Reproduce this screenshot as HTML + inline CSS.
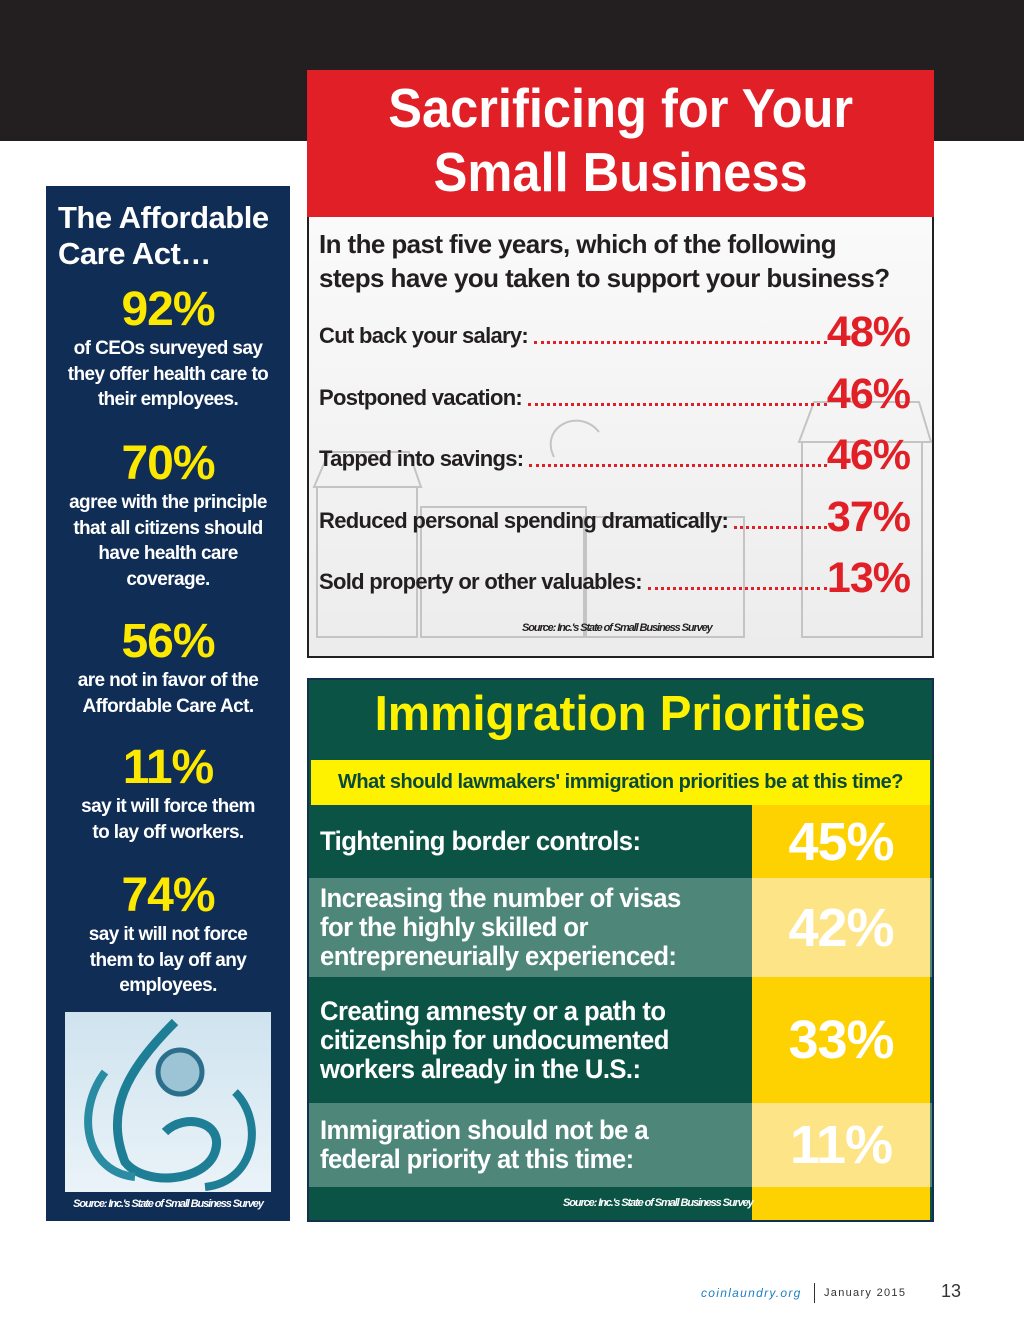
<!DOCTYPE html>
<html><head><meta charset="utf-8">
<style>
*{margin:0;padding:0;box-sizing:border-box}
body{width:1024px;height:1329px;background:#fff;position:relative;overflow:hidden;font-family:"Liberation Sans",sans-serif;font-weight:bold}
.a{position:absolute}
.c{text-align:center}
.sq{display:inline-block;transform:scaleX(0.92);transform-origin:center}
.sl{display:inline-block;transform:scaleX(0.95);transform-origin:left}
.src{font-size:11px;font-style:italic;letter-spacing:-1.1px;white-space:nowrap}
</style></head><body>
<div class="a" style="left:0;top:0;width:1024px;height:141px;background:#231f20"></div>

<!-- Left panel -->
<div class="a" style="left:46px;top:186px;width:244px;height:1035px;background:#0f2d55;color:#fff">
  <div class="a" style="left:12px;top:14px;width:240px;font-size:31px;line-height:36px;letter-spacing:-0.5px;white-space:nowrap">The Affordable<br>Care Act…</div>
  <div id="acaStats"></div>
  <div class="a" style="left:19px;top:826px;width:206px;height:180px;background:linear-gradient(#cfe3ef,#eaf3f8)">
    <svg width="206" height="180">
      <path d="M110 10 C60 60 40 100 60 150 C80 175 140 170 150 140 C160 110 120 100 100 120" fill="none" stroke="#1e7e95" stroke-width="9"/>
      <path d="M40 60 C10 100 20 160 70 165" fill="none" stroke="#2a8ca3" stroke-width="8"/>
      <circle cx="115" cy="60" r="22" fill="#9cc4d4" stroke="#2b6f8c" stroke-width="5"/>
      <path d="M170 80 C200 110 190 170 140 175" fill="none" stroke="#1e7e95" stroke-width="8"/>
    </svg>
  </div>
  <div class="a c src" style="left:0;top:1012px;width:244px">Source: Inc.'s State of Small Business Survey</div>
</div>

<!-- Sacrificing panel -->
<div class="a c" style="left:307px;top:70px;width:627px;height:147px;background:#e11f26;color:#fff;font-size:55px;line-height:64px;padding-top:6px"><span class="sq">Sacrificing for Your<br>Small Business</span></div>
<div class="a" style="left:307px;top:217px;width:627px;height:441px;border:2px solid #231f20;border-top:none;background:linear-gradient(#fafafa,#ececec)">
  <svg class="a" style="left:0;top:0" width="625" height="439">
    <g fill="none" stroke="#c4c4c4" stroke-width="2">
      <rect x="8" y="270" width="100" height="150"/><polygon points="5,270 20,235 100,235 112,270"/>
      <rect x="112" y="290" width="165" height="130"/><rect x="275" y="300" width="160" height="120"/>
      <rect x="493" y="225" width="120" height="195"/><polygon points="490,225 505,185 610,185 622,225"/>
      <path d="M245 240 C230 210 270 190 290 215"/>
    </g>
  </svg>
  <div class="a" style="left:10px;top:10px;width:620px;font-size:26px;line-height:34px;color:#231f20;letter-spacing:-0.6px;white-space:nowrap">In the past five years, which of the following<br>steps have you taken to support your business?</div>
  <div id="sacRows"></div>
  <div class="a src" style="left:213px;top:405px;color:#231f20">Source: Inc.'s State of Small Business Survey</div>
</div>

<!-- Immigration panel -->
<div class="a" style="left:307px;top:678px;width:627px;height:544px;background:#0a5345;border:2px solid #13304f">
  <div class="a c" style="left:0;top:6px;width:623px;font-size:49px;color:#fff200"><span style="display:inline-block;transform:scaleX(0.97)">Immigration Priorities</span></div>
  <div class="a c" style="left:2px;top:80px;width:619px;height:45px;background:#fff200;color:#0a4a3a;font-size:20px;line-height:45px;letter-spacing:-0.5px">What should lawmakers' immigration priorities be at this time?</div>
  <div id="immRows"></div>
  <div class="a" style="left:443px;top:507px;width:178px;height:33px;background:#fed100"></div>
  <div class="a src" style="left:254px;top:517px;color:#fff">Source: Inc.'s State of Small Business Survey</div>
</div>

<!-- Footer -->
<div class="a" style="left:701px;top:1286px;font-size:12px;font-weight:normal;font-style:italic;color:#1f7fc0;letter-spacing:1.3px">coinlaundry.org</div>
<div class="a" style="left:814px;top:1283px;width:1px;height:20px;background:#333"></div>
<div class="a" style="left:824px;top:1287px;font-size:11px;font-weight:normal;color:#333;letter-spacing:1.3px">January 2015</div>
<div class="a" style="left:941px;top:1281px;font-size:18px;font-weight:normal;color:#333">13</div>

<script>
const acaValues=["92%","70%","56%","11%","74%"];
const acaTexts=["of CEOs surveyed say<br>they offer health care to<br>their employees.","agree with the principle<br>that all citizens should<br>have health care<br>coverage.","are not in favor of the<br>Affordable Care Act.","say it will force them<br>to lay off workers.","say it will not force<br>them to lay off any<br>employees."];
const acaTops=[98,252,430,556,684];

const sacLabels=["Cut back your salary:","Postponed vacation:","Tapped into savings:","Reduced personal spending dramatically:","Sold property or other valuables:"];
const sacValues=[48,46,46,37,13];

const immLabels=["Tightening border controls:","Increasing the number of visas<br>for the highly skilled or<br>entrepreneurially experienced:","Creating amnesty or a path to<br>citizenship for undocumented<br>workers already in the U.S.:","Immigration should not be a<br>federal priority at this time:"];
const immValues=[45,42,33,11];

const aca=document.getElementById('acaStats');
acaValues.forEach((v,i)=>{
  const d=document.createElement('div');
  d.className='a c';
  
  
  d.style.cssText='left:0;width:244px;top:'+acaTops[i]+'px;white-space:nowrap';
  d.innerHTML='<div style="font-size:48px;line-height:52px;color:#fde800;letter-spacing:-1px">'+v+'</div><div style="font-size:19px;line-height:25.5px;letter-spacing:-0.6px">'+acaTexts[i]+'</div>';
  aca.appendChild(d);
});

const sac=document.getElementById('sacRows');
const rowY=i=>92+i*61.5;
sacLabels.forEach((l,i)=>{
  const r=document.createElement('div');
  r.className='a';
  
  
  r.style.cssText='left:10px;top:'+rowY(i)+'px;width:591px;height:46px;display:flex;align-items:flex-end';
  r.innerHTML='<span style="font-size:22px;color:#231f20;white-space:nowrap;letter-spacing:-0.7px;padding-bottom:6px;margin-right:6px">'+l+'</span>'+
   '<span style="flex:1;border-bottom:3px dotted #e11f26;margin-bottom:11px"></span>'+
   '<span style="font-size:43px;line-height:46px;color:#e11f26;letter-spacing:-1px">'+sacValues[i]+'%</span>';
  sac.appendChild(r);
});

const imm=document.getElementById('immRows');
const immTops=[125,198,297,423];
const immH=[73,99,126,84];
immLabels.forEach((l,i)=>{
  const light=i%2==1;
  const r=document.createElement('div');
  r.className='a';
  
  
  r.style.cssText='left:0;top:'+immTops[i]+'px;width:623px;height:'+immH[i]+'px;background:'+(light?'#4e877a':'#0a5345');
  r.innerHTML='<div class="a" style="left:11px;top:0;height:100%;display:flex;align-items:center;font-size:27px;line-height:29px;color:#fff;letter-spacing:-0.6px;white-space:nowrap"><span class="sl">'+l+'</span></div>'+
   '<div class="a c" style="left:443px;top:0;width:178px;height:100%;background:'+(light?'#fde486':'#fed100')+';display:flex;align-items:center;justify-content:center;font-size:54px;color:#fff;letter-spacing:-1px">'+immValues[i]+'%</div>';
  imm.appendChild(r);
});
</script>
</body></html>
